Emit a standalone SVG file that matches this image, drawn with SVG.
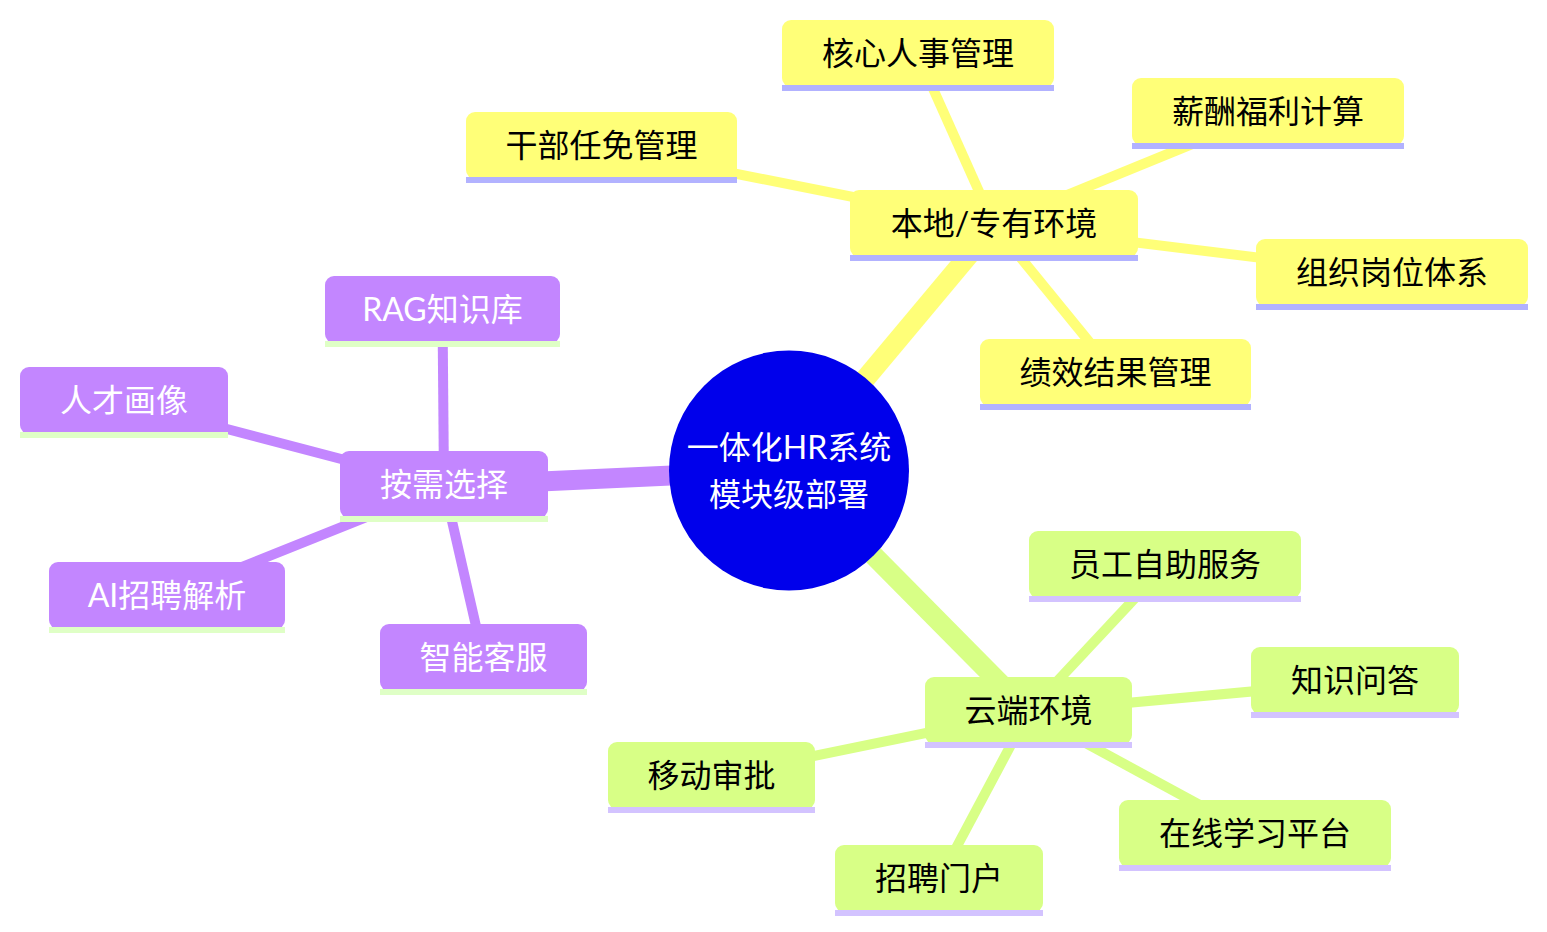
<svg xmlns="http://www.w3.org/2000/svg" width="1547" height="932" viewBox="0 0 1547 932">
<style>
text{font-family:"Lato","Noto Sans CJK SC","Noto Sans",sans-serif;font-size:32px;text-anchor:middle}
.s0 .box{fill:#ffff78}.s0 .ln{fill:#b2b2ff}.s0 text{fill:#000}
.s1 .box{fill:#d8ff86}.s1 .ln{fill:#d3c3ff}.s1 text{fill:#000}
.s2 .box{fill:#c386ff}.s2 .ln{fill:#dfffc6}.s2 text{fill:#fff}
.e0{stroke:#ffff78}.e1{stroke:#d8ff86}.e2{stroke:#c386ff}
.d1{stroke-width:20}.d2{stroke-width:10}
#edges line{stroke-linecap:butt}
</style>
<g id="edges">
<line class="e0 d1" x1="789" y1="470" x2="994" y2="225"/>
<line class="e2 d1" x1="789" y1="470" x2="444" y2="486"/>
<line class="e1 d1" x1="789" y1="470" x2="1028.5" y2="712"/>
<line class="e0 d2" x1="994" y1="225" x2="918" y2="55"/>
<line class="e0 d2" x1="994" y1="225" x2="601.5" y2="147"/>
<line class="e0 d2" x1="994" y1="225" x2="1268" y2="113"/>
<line class="e0 d2" x1="994" y1="225" x2="1392" y2="274"/>
<line class="e0 d2" x1="994" y1="225" x2="1115.5" y2="374"/>
<line class="e2 d2" x1="444" y1="486" x2="442.5" y2="311"/>
<line class="e2 d2" x1="444" y1="486" x2="124" y2="402"/>
<line class="e2 d2" x1="444" y1="486" x2="167" y2="597"/>
<line class="e2 d2" x1="444" y1="486" x2="483.5" y2="659"/>
<line class="e1 d2" x1="1028.5" y1="712" x2="1165" y2="566"/>
<line class="e1 d2" x1="1028.5" y1="712" x2="1355" y2="682"/>
<line class="e1 d2" x1="1028.5" y1="712" x2="711.5" y2="777"/>
<line class="e1 d2" x1="1028.5" y1="712" x2="1255" y2="835"/>
<line class="e1 d2" x1="1028.5" y1="712" x2="939" y2="880"/>
</g>
<g id="root">
<circle cx="789" cy="470.5" r="120" fill="#0000eb"/>
<text x="789" y="459" fill="#fff">一体化HR系统</text>
<text x="789" y="506" fill="#fff">模块级部署</text>
</g>
<g id="n-bendi" class="s0"><rect class="box" x="850" y="190" width="288" height="67" rx="9"/><rect class="ln" x="850" y="255" width="288" height="6"/><text x="994" y="235">本地/专有环境</text></g>
<g id="n-hexin" class="s0"><rect class="box" x="782" y="20" width="272" height="67" rx="9"/><rect class="ln" x="782" y="85" width="272" height="6"/><text x="918" y="65">核心人事管理</text></g>
<g id="n-ganbu" class="s0"><rect class="box" x="466" y="112" width="271" height="67" rx="9"/><rect class="ln" x="466" y="177" width="271" height="6"/><text x="601.5" y="157">干部任免管理</text></g>
<g id="n-xinchou" class="s0"><rect class="box" x="1132" y="78" width="272" height="67" rx="9"/><rect class="ln" x="1132" y="143" width="272" height="6"/><text x="1268" y="123">薪酬福利计算</text></g>
<g id="n-zuzhi" class="s0"><rect class="box" x="1256" y="239" width="272" height="67" rx="9"/><rect class="ln" x="1256" y="304" width="272" height="6"/><text x="1392" y="284">组织岗位体系</text></g>
<g id="n-jixiao" class="s0"><rect class="box" x="980" y="339" width="271" height="67" rx="9"/><rect class="ln" x="980" y="404" width="271" height="6"/><text x="1115.5" y="384">绩效结果管理</text></g>
<g id="n-anxu" class="s2"><rect class="box" x="340" y="451" width="208" height="67" rx="9"/><rect class="ln" x="340" y="516" width="208" height="6"/><text x="444" y="496">按需选择</text></g>
<g id="n-rag" class="s2"><rect class="box" x="325" y="276" width="235" height="67" rx="9"/><rect class="ln" x="325" y="341" width="235" height="6"/><text x="442.5" y="321">RAG知识库</text></g>
<g id="n-rencai" class="s2"><rect class="box" x="20" y="367" width="208" height="67" rx="9"/><rect class="ln" x="20" y="432" width="208" height="6"/><text x="124" y="412">人才画像</text></g>
<g id="n-ai" class="s2"><rect class="box" x="49" y="562" width="236" height="67" rx="9"/><rect class="ln" x="49" y="627" width="236" height="6"/><text x="167" y="607">AI招聘解析</text></g>
<g id="n-kefu" class="s2"><rect class="box" x="380" y="624" width="207" height="67" rx="9"/><rect class="ln" x="380" y="689" width="207" height="6"/><text x="483.5" y="669">智能客服</text></g>
<g id="n-yun" class="s1"><rect class="box" x="925" y="677" width="207" height="67" rx="9"/><rect class="ln" x="925" y="742" width="207" height="6"/><text x="1028.5" y="722">云端环境</text></g>
<g id="n-yuangong" class="s1"><rect class="box" x="1029" y="531" width="272" height="67" rx="9"/><rect class="ln" x="1029" y="596" width="272" height="6"/><text x="1165" y="576">员工自助服务</text></g>
<g id="n-zhishi" class="s1"><rect class="box" x="1251" y="647" width="208" height="67" rx="9"/><rect class="ln" x="1251" y="712" width="208" height="6"/><text x="1355" y="692">知识问答</text></g>
<g id="n-yidong" class="s1"><rect class="box" x="608" y="742" width="207" height="67" rx="9"/><rect class="ln" x="608" y="807" width="207" height="6"/><text x="711.5" y="787">移动审批</text></g>
<g id="n-zaixian" class="s1"><rect class="box" x="1119" y="800" width="272" height="67" rx="9"/><rect class="ln" x="1119" y="865" width="272" height="6"/><text x="1255" y="845">在线学习平台</text></g>
<g id="n-zhaopin" class="s1"><rect class="box" x="835" y="845" width="208" height="67" rx="9"/><rect class="ln" x="835" y="910" width="208" height="6"/><text x="939" y="890">招聘门户</text></g>
</svg>
